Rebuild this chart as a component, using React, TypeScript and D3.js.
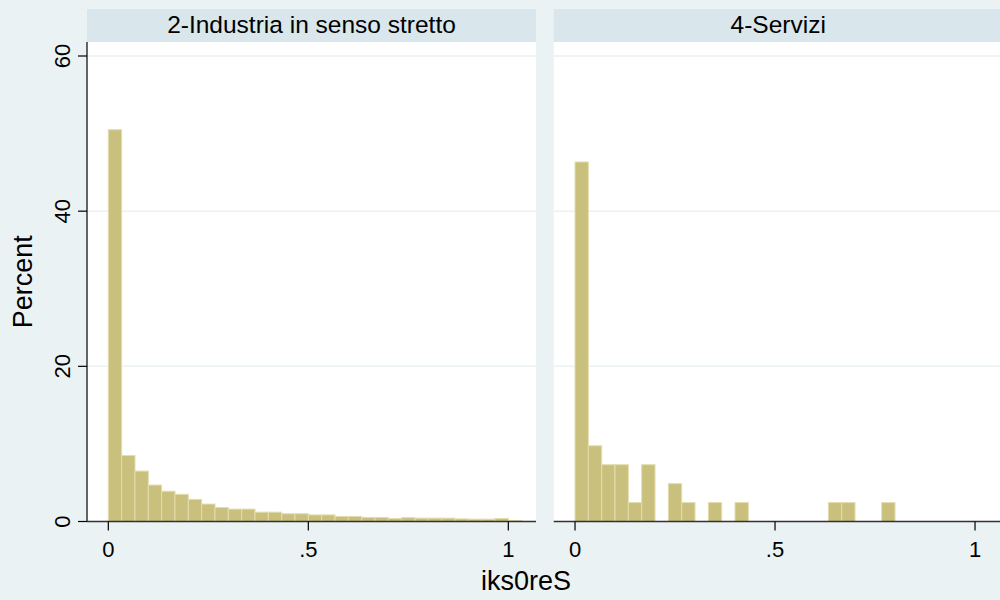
import React from 'react'
import * as d3 from 'd3'

// histogram bins start at 0, width 1/30
const binWidth = 1 / 30

const panels = ['2-Industria in senso stretto', '4-Servizi']

// percent per bin
const industria = [
  50.5, 8.5, 6.5, 4.7, 3.9, 3.5, 2.85, 2.25, 1.8, 1.6, 1.6, 1.2, 1.2, 1.0, 1.0, 0.85,
  0.85, 0.65, 0.65, 0.52, 0.52, 0.39, 0.5, 0.43, 0.43, 0.43, 0.34, 0.3, 0.3, 0.39, 0.13,
]
const servizi = [
  46.34, 9.76, 7.32, 7.32, 2.44, 7.32, 0, 4.88, 2.44, 0, 2.44, 0, 2.44, 0, 0, 0, 0, 0, 0,
  2.44, 2.44, 0, 0, 2.44,
]
const seriesList = [industria, servizi]

const yTicks = [0, 20, 40, 60]
const xTicks = [0, 0.5, 1]
const xTickLabels = ['0', '.5', '1']

const bg = '#EAF2F3'
const stripFill = '#D9E6EB'
const barFill = '#C9C07D'
const barStroke = '#E3DDAE'
const axisColor = '#333'
const font = '"Liberation Sans", Arial, sans-serif'

const App = () => {
  const width = 1000
  const height = 600
  const plotTop = 42
  const plotBottom = 521.5
  const panelLeft = [87, 553.7]
  const panelWidth = 449
  const stripTop = 9

  const y = d3.scaleLinear().domain([0, 60]).range([plotBottom, 56])
  const x = d3.scaleLinear().domain([-0.0533, 1.0692]).range([0, panelWidth])

  return (
    <svg
      width={width}
      height={height}
      style={{ position: 'absolute', left: 0, top: 0, fontFamily: font }}
    >
      <rect x={0} y={0} width={width} height={height} fill={bg} />

      {panels.map((title, p) => {
        const left = panelLeft[p]
        const data = seriesList[p]
        return (
          <g key={title} transform={`translate(${left},0)`}>
            <rect x={0} y={stripTop} width={panelWidth} height={plotTop - stripTop} fill={stripFill} />
            <text x={panelWidth / 2} y={33} textAnchor="middle" fontSize={24.5} fill="#000">
              {title}
            </text>
            <rect x={0} y={plotTop} width={panelWidth} height={plotBottom - plotTop} fill="#fff" />
            {yTicks.filter(d => d > 0).map(t => (
              <line key={t} x1={0} x2={panelWidth} y1={y(t)} y2={y(t)} stroke={bg} strokeWidth={1.5} />
            ))}
            {data.map((v, i) =>
              v > 0 ? (
                <rect
                  key={i}
                  x={x(i * binWidth)}
                  y={y(v)}
                  width={x((i + 1) * binWidth) - x(i * binWidth)}
                  height={plotBottom - y(v)}
                  fill={barFill}
                  stroke={barStroke}
                  strokeWidth={1}
                />
              ) : null
            )}
            <line x1={0} x2={panelWidth} y1={plotBottom} y2={plotBottom} stroke={axisColor} strokeWidth={1.5} />
            {xTicks.map((t, i) => (
              <g key={t}>
                <line x1={x(t)} x2={x(t)} y1={plotBottom} y2={plotBottom + 9} stroke="#000" strokeWidth={1.2} />
                <text x={x(t)} y={557} textAnchor="middle" fontSize={22} fill="#000">
                  {xTickLabels[i]}
                </text>
              </g>
            ))}
            {p === 0 && (
              <g>
                <line x1={0} x2={0} y1={plotTop} y2={plotBottom} stroke={axisColor} strokeWidth={1.5} />
                {yTicks.map(t => (
                  <g key={t}>
                    <line x1={-9} x2={0} y1={y(t)} y2={y(t)} stroke="#000" strokeWidth={1.2} />
                    <text
                      x={-17}
                      y={y(t)}
                      textAnchor="middle"
                      fontSize={22}
                      fill="#000"
                      transform={`rotate(-90, ${-17}, ${y(t)})`}
                    >
                      {t}
                    </text>
                  </g>
                ))}
              </g>
            )}
          </g>
        )
      })}

      <text
        x={32}
        y={(plotTop + plotBottom) / 2}
        textAnchor="middle"
        fontSize={27}
        fill="#000"
        transform={`rotate(-90, 32, ${(plotTop + plotBottom) / 2})`}
      >
        Percent
      </text>
      <text x={526} y={590} textAnchor="middle" fontSize={27} fill="#000">
        iks0reS
      </text>
    </svg>
  )
}

export default App
